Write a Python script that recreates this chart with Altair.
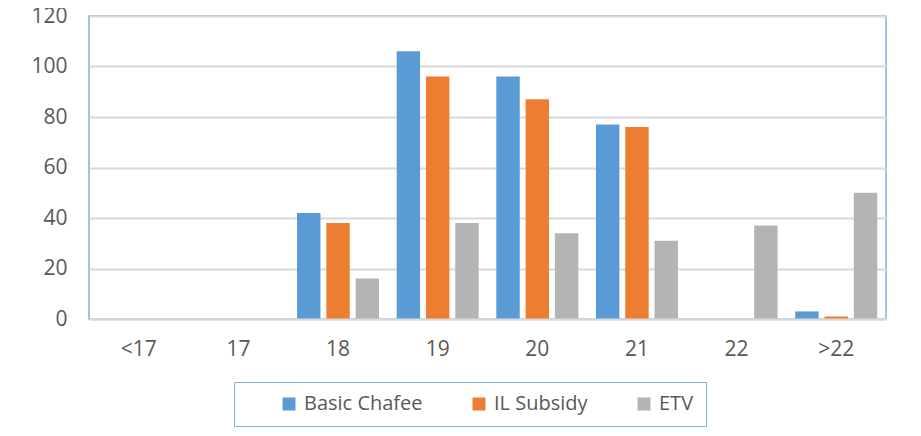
import altair as alt
import pandas as pd

categories = ["<17", "17", "18", "19", "20", "21", "22", ">22"]
series = ["Basic Chafee", "IL Subsidy", "ETV"]
basic_chafee = [0, 0, 42, 106, 96, 77, 0, 3]
il_subsidy = [0, 0, 38, 96, 87, 76, 0, 1]
etv = [0, 0, 16, 38, 34, 31, 37, 50]
colors = ["#5b9bd5", "#ed7d31", "#b4b4b4"]
y_ticks = [0, 20, 40, 60, 80, 100, 120]

rows = []
for name, vals in zip(series, [basic_chafee, il_subsidy, etv]):
    for c, v in zip(categories, vals):
        rows.append({"age": c, "series": name, "value": v})
df = pd.DataFrame(rows)

FONT = "Open Sans"
TXT = "#595959"
BLUE_BORDER = "#7fb0e2"
FS = 21
NB = "\u00a0"
EM = "\u2003"

chart = alt.Chart(df).mark_bar().encode(
    x=alt.X("age:N", sort=categories,
            scale=alt.Scale(paddingInner=0.177, paddingOuter=0.088),
            axis=alt.Axis(title=None, labelAngle=0, ticks=False, labelPadding=19,
                          domainColor="#d9d9d9", domainWidth=2, zindex=1,
                          labelFont=FONT, labelFontSize=FS, labelColor=TXT)),
    xOffset=alt.XOffset("series:N", sort=series,
                        scale=alt.Scale(paddingInner=0.2, paddingOuter=0)),
    y=alt.Y("value:Q", scale=alt.Scale(domain=[0, 120], nice=False),
            axis=alt.Axis(title=None, values=y_ticks, ticks=False, domain=False,
                          gridColor="#d9d9d9", gridWidth=2, labelPadding=22,
                          labelFont=FONT, labelFontSize=FS, labelColor=TXT)),
    color=alt.Color("series:N", sort=series,
                    scale=alt.Scale(domain=series, range=colors),
                    legend=alt.Legend(title=NB, titleOrient="left", titleFontSize=10,
                                      titlePadding=33,
                                      orient="none", legendX=145, legendY=366,
                                      direction="horizontal", symbolType="square",
                                      symbolSize=169, symbolStrokeWidth=0,
                                      columnPadding=46, labelOffset=5,
                                      labelExpr="datum.value == 'ETV' ? datum.label + '" + EM + "' : datum.label",
                                      labelFont=FONT, labelFontSize=20, labelColor=TXT,
                                      strokeColor=BLUE_BORDER, padding=12)),
).properties(
    width=797, height=303,
    autosize=alt.AutoSizeParams(type="none"),
    padding={"left": 81, "top": 8, "right": 27, "bottom": 109},
).configure(
    background="white"
).configure_view(
    stroke=BLUE_BORDER, strokeWidth=1.5
)

chart.save("out.html", embed_options={"renderer": "svg", "actions": False})
